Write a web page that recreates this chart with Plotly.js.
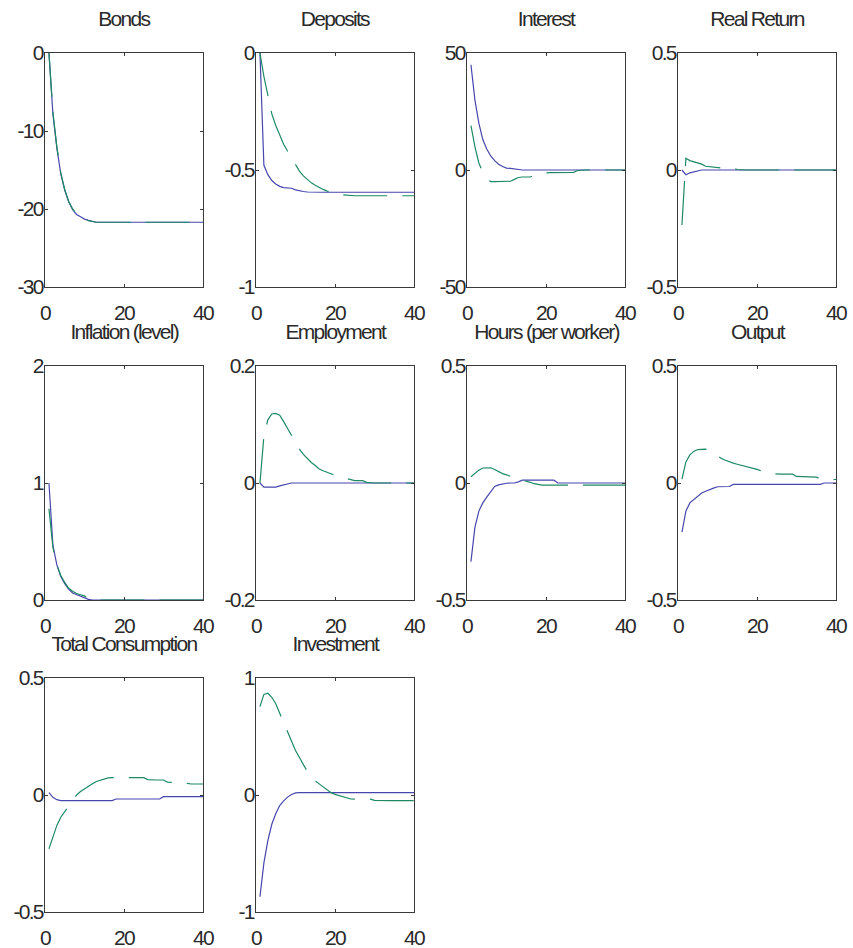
<!DOCTYPE html>
<html>
<head>
<meta charset="utf-8">
<script src="https://cdn.plot.ly/plotly-3.0.1.min.js"></script>
<style>
html, body { margin: 0; padding: 0; background: #ffffff; }
#chart { width: 853px; height: 948px; }
#chart .main-svg text { letter-spacing: -1.7px; }
</style>
</head>
<body>
<div id="chart"></div>
<script>
// ---------- DATA ----------
const periods = [1,2,3,4,5,6,7,8,9,10,11,12,13,14,15,16,17,18,19,20,21,22,23,24,25,26,27,28,29,30,31,32,33,34,35,36,37,38,39,40];

const panelTitles = ["Bonds", "Deposits", "Interest", "Real Return",
  "Inflation (level)", "Employment", "Hours (per worker)", "Output",
  "Total Consumption", "Investment"];

const bondsBlue = [0,-7.8,-12.2,-15.5,-17.6,-19.1,-20.1,-20.7,-21.0,-21.3,-21.45,-21.55,-21.7,-21.7,-21.7,-21.7,-21.7,-21.7,-21.7,-21.7,-21.7,-21.7,-21.7,-21.7,-21.7,-21.7,-21.7,-21.7,-21.7,-21.7,-21.7,-21.7,-21.7,-21.7,-21.7,-21.7,-21.7,-21.7,-21.7,-21.7];
const bondsGreen = [0,-7.6,-12.0,-15.4,-17.5,-19.0,-20.0,-20.6,-20.95,-21.25,-21.5,-21.6,-21.7,-21.7,-21.7,-21.7,-21.7,-21.7,-21.7,-21.7,-21.7,-21.7,-21.7,-21.7,-21.7,-21.7,-21.7,-21.7,-21.7,-21.7,-21.7,-21.7,-21.7,-21.7,-21.7,-21.7,-21.7,-21.7,-21.7,-21.7];

const depositsBlue = [0,-0.48,-0.52,-0.545,-0.56,-0.57,-0.575,-0.575,-0.578,-0.585,-0.59,-0.592,-0.594,-0.595,-0.595,-0.595,-0.595,-0.595,-0.595,-0.595,-0.595,-0.595,-0.595,-0.595,-0.595,-0.595,-0.595,-0.595,-0.595,-0.595,-0.595,-0.595,-0.595,-0.595,-0.595,-0.595,-0.595,-0.595,-0.595,-0.595];
const depositsGreen = [0,-0.1,-0.18,-0.26,-0.31,-0.35,-0.39,-0.42,-0.45,-0.48,-0.505,-0.525,-0.54,-0.555,-0.565,-0.575,-0.583,-0.59,-0.595,-0.6,-0.603,-0.606,-0.608,-0.61,-0.61,-0.61,-0.61,-0.61,-0.61,-0.61,-0.61,-0.61,-0.61,-0.61,-0.61,-0.61,-0.61,-0.61,-0.61,-0.61];

const interestBlue = [45,30,20,13,9,6,4,2.5,1.5,0.8,0.7,0.5,0,0,0,0,0,0,0,0,0,0,0,0,0,0,0,0,0,0,0,0,0,0,0,0,0,0,0,0];
const interestGreen = [19,10,3,-1,-3.5,-5,-5,-5,-5,-5,-4.8,-4,-3.2,-3,-3,-3,-2.2,-1.8,-1.5,-1.2,-1.1,-1.1,-1.1,-1.1,-1.1,-1.1,-1.0,-0.2,0,0,0,0,0,0,0,0,0,0,0,0];

const realBlue = [0,-0.02,-0.012,-0.008,-0.003,0,0,0,0,0,0,0,0,0,0,0,0,0,0,0,0,0,0,0,0,0,0,0,0,0,0,0,0,0,0,0,0,0,0,0];
const realGreen = [-0.235,0.05,0.04,0.035,0.028,0.025,0.016,0.014,0.012,0.008,0.007,0.007,0.007,0.007,0.002,0,0,0,0,0,0,0,0,0,0,0,0,0,0,0,0,0,0,0,0,0,0,0,0,0];

const inflationBlue = [1.0,0.47,0.3,0.2,0.14,0.09,0.06,0.045,0.035,0.02,0.005,0,0,0,0,0,0,0,0,0,0,0,0,0,0,0,0,0,0,0,0,0,0,0,0,0,0,0,0,0];
const inflationGreen = [0.78,0.45,0.3,0.21,0.15,0.1,0.075,0.055,0.045,0.035,0.01,0,0,0,0,0,0,0,0,0,0,0,0,0,0,0,0,0,0,0,0,0,0,0,0,0,0,0,0,0];

const employmentBlue = [0,-0.007,-0.007,-0.007,-0.007,-0.005,-0.003,-0.002,0,0,0,0,0,0,0,0,0,0,0,0,0,0,0,0,0,0,0,0,0,0,0,0,0,0,0,0,0,0,0,0];
const employmentGreen = [0,0.08,0.108,0.118,0.119,0.116,0.105,0.093,0.08,0.07,0.058,0.049,0.042,0.035,0.03,0.024,0.021,0.018,0.015,0.013,0.011,0.009,0.007,0.005,0.004,0.004,0.004,0.001,0,0,0,0,0,0,0,0,0,0,0,0];

const hoursBlue = [-0.336,-0.19,-0.12,-0.085,-0.06,-0.035,-0.015,-0.008,-0.004,-0.001,0,0,0.005,0.012,0.012,0.012,0.012,0.012,0.012,0.012,0.012,0.012,0,0,0,0,0,0,0,0,0,0,0,0,0,0,0,0,0,0];
const hoursGreen = [0.027,0.042,0.055,0.064,0.066,0.065,0.058,0.048,0.04,0.035,0.027,0.022,0.017,0.013,0.008,0.003,-0.003,-0.007,-0.009,-0.009,-0.009,-0.009,-0.009,-0.009,-0.009,-0.009,-0.009,-0.009,-0.009,-0.009,-0.009,-0.009,-0.009,-0.009,-0.009,-0.009,-0.009,-0.009,-0.009,-0.009];

const outputBlue = [-0.21,-0.12,-0.085,-0.07,-0.055,-0.043,-0.035,-0.027,-0.022,-0.016,-0.016,-0.016,-0.015,-0.006,-0.006,-0.006,-0.006,-0.006,-0.006,-0.006,-0.006,-0.006,-0.006,-0.006,-0.006,-0.006,-0.006,-0.006,-0.006,-0.006,-0.006,-0.006,-0.006,-0.006,-0.006,-0.006,0,0,0,0];
const outputGreen = [0.017,0.09,0.12,0.135,0.143,0.145,0.145,0.14,0.128,0.115,0.105,0.097,0.09,0.085,0.08,0.076,0.072,0.067,0.063,0.058,0.052,0.046,0.042,0.04,0.038,0.038,0.038,0.038,0.038,0.028,0.028,0.028,0.028,0.028,0.025,0.02,0.017,0.015,0.015,0.015];

const consumptionBlue = [0.01,-0.01,-0.02,-0.024,-0.024,-0.024,-0.024,-0.024,-0.024,-0.024,-0.024,-0.024,-0.024,-0.024,-0.024,-0.024,-0.024,-0.017,-0.017,-0.017,-0.017,-0.017,-0.017,-0.017,-0.017,-0.017,-0.017,-0.017,-0.017,-0.007,-0.007,-0.007,-0.007,-0.007,-0.007,-0.007,-0.007,-0.007,-0.007,-0.007];
const consumptionGreen = [-0.23,-0.175,-0.13,-0.095,-0.07,-0.045,-0.02,0.0,0.015,0.027,0.038,0.048,0.058,0.064,0.068,0.073,0.074,0.074,0.074,0.074,0.074,0.074,0.074,0.074,0.074,0.066,0.064,0.064,0.064,0.064,0.055,0.054,0.054,0.054,0.054,0.05,0.047,0.047,0.047,0.047];

const investmentBlue = [-0.87,-0.58,-0.39,-0.25,-0.16,-0.09,-0.05,-0.018,0.005,0.018,0.02,0.02,0.02,0.02,0.02,0.02,0.02,0.02,0.02,0.02,0.02,0.02,0.02,0.02,0.02,0.02,0.02,0.02,0.02,0.02,0.02,0.02,0.02,0.02,0.02,0.02,0.02,0.02,0.02,0.02];
const investmentGreen = [0.755,0.86,0.87,0.835,0.78,0.7,0.61,0.525,0.45,0.38,0.32,0.255,0.2,0.155,0.12,0.095,0.07,0.043,0.02,0.005,-0.005,-0.012,-0.025,-0.034,-0.036,-0.036,-0.036,-0.036,-0.036,-0.046,-0.048,-0.048,-0.048,-0.048,-0.048,-0.048,-0.048,-0.048,-0.048,-0.048];

const blueSeries = [bondsBlue, depositsBlue, interestBlue, realBlue, inflationBlue, employmentBlue, hoursBlue, outputBlue, consumptionBlue, investmentBlue];
const greenSeries = [bondsGreen, depositsGreen, interestGreen, realGreen, inflationGreen, employmentGreen, hoursGreen, outputGreen, consumptionGreen, investmentGreen];

const xTickVals = [0, 20, 40];
const xTickText = ["0", "20", "40"];
const yTickVals = [[-30,-20,-10,0],[-1,-0.5,0],[-50,0,50],[-0.5,0,0.5],[0,1,2],[-0.2,0,0.2],[-0.5,0,0.5],[-0.5,0,0.5],[-0.5,0,0.5],[-1,0,1]];
const yTickText = [["-30","-20","-10","0"],["-1","-0.5","0"],["-50","0","50"],["-0.5","0","0.5"],["0","1","2"],["-0.2","0","0.2"],["-0.5","0","0.5"],["-0.5","0","0.5"],["-0.5","0","0.5"],["-1","0","1"]];

// ---------- LAYOUT ----------
const W = 853, H = 948;
const colPx = [[45,203],[256,414],[467,625],[678,836]];
const rowPx = [[53,287],[366,600],[678,912]];
const blue = "#4646ae";
const green = "#1d8a62";
const axisColor = "#3a3a3a";
const font = {family: "Liberation Sans, Arial, sans-serif", size: 21, color: "#2a2a2a"};

const traces = [];
const layout = {
  width: W, height: H,
  margin: {l: 0, r: 0, t: 0, b: 0},
  paper_bgcolor: "#ffffff",
  plot_bgcolor: "#ffffff",
  showlegend: false,
  font: font,
  annotations: []
};

for (let i = 0; i < panelTitles.length; i++) {
  const r = Math.floor(i / 4), c = i % 4;
  const n = i + 1;
  const xa = n === 1 ? "x" : "x" + n;
  const ya = n === 1 ? "y" : "y" + n;
  const xd = [colPx[c][0] / W, colPx[c][1] / W];
  const yd = [1 - rowPx[r][1] / H, 1 - rowPx[r][0] / H];
  const yv = yTickVals[i];
  layout[n === 1 ? "xaxis" : "xaxis" + n] = {
    domain: xd, anchor: ya, range: [0, 40],
    tickvals: xTickVals, ticktext: xTickText,
    ticks: "inside", ticklen: 3, tickcolor: axisColor,
    showline: true, linecolor: axisColor, linewidth: 1, mirror: "ticks",
    showgrid: false, zeroline: false, fixedrange: true,
    ticklabelstandoff: 7, tickfont: font
  };
  layout[n === 1 ? "yaxis" : "yaxis" + n] = {
    domain: yd, anchor: xa, range: [yv[0], yv[yv.length - 1]],
    tickvals: yv, ticktext: yTickText[i],
    ticks: "inside", ticklen: 3, tickcolor: axisColor,
    showline: true, linecolor: axisColor, linewidth: 1, mirror: "ticks",
    showgrid: false, zeroline: false, fixedrange: true,
    ticklabelstandoff: -3, tickfont: font
  };
  traces.push({
    x: periods, y: blueSeries[i], xaxis: xa, yaxis: ya,
    type: "scatter", mode: "lines",
    line: {color: blue, width: 1.2}, hoverinfo: "skip"
  });
  traces.push({
    x: periods, y: greenSeries[i], xaxis: xa, yaxis: ya,
    type: "scatter", mode: "lines",
    line: {color: green, width: 1.2, dash: "44px,15px"}, hoverinfo: "skip"
  });
  layout.annotations.push({
    text: panelTitles[i], xref: "paper", yref: "paper",
    x: (xd[0] + xd[1]) / 2, y: yd[1], xanchor: "center", yanchor: "bottom",
    yshift: 21, showarrow: false, font: font
  });
}

Plotly.newPlot("chart", traces, layout, {staticPlot: true, displayModeBar: false});
</script>
</body>
</html>
